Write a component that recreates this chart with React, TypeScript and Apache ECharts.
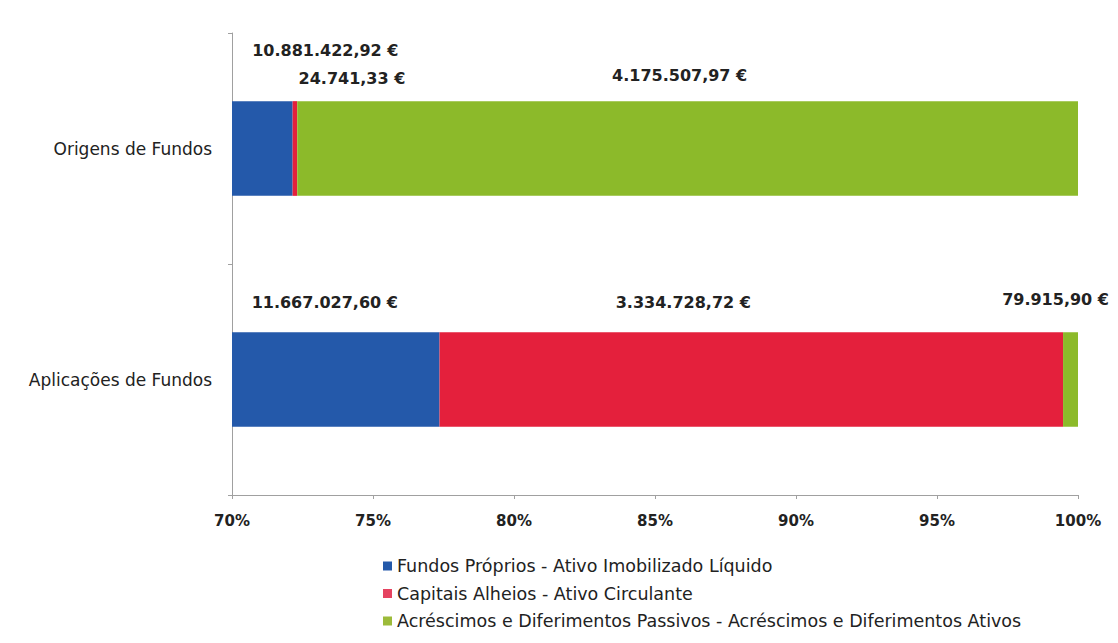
import React, { useEffect, useRef } from "react";
import * as echarts from "echarts";

const categories = ["Origens de Fundos", "Aplicações de Fundos"];
const seriesNames = [
  "Fundos Próprios - Ativo Imobilizado Líquido",
  "Capitais Alheios - Ativo Circulante",
  "Acréscimos e Diferimentos Passivos - Acréscimos e Diferimentos Ativos",
];
const fundosProprios = [10881422.92, 11667027.6];
const capitaisAlheios = [24741.33, 3334728.72];
const acrescimos = [4175507.97, 79915.9];
const xTicks = { min: 70, max: 100, interval: 5 };

const colors = ["#2459aa", "#e4203c", "#8cba2a"];
const legendColors = ["#2459aa", "#e54360", "#9cbb3a"];

// label offsets [series][category]
const labelOffsets = [
  [[63, -38], [-11, -17]],
  [[57, -10], [-68, -17]],
  [[-8, -13], [-15, -20]],
];

function fmtEuro(v: number): string {
  const [i, d] = v.toFixed(2).split(".");
  const g = i.replace(/\B(?=(\d{3})+(?!\d))/g, ".");
  return g + "," + d + " €";
}

export default function App() {
  const ref = useRef<HTMLDivElement>(null);
  useEffect(() => {
    if (!ref.current) return;
    const chart = echarts.init(ref.current, undefined, { renderer: "svg" });
    const raw = [fundosProprios, capitaisAlheios, acrescimos];
    const totals = categories.map((_, i) => raw.reduce((s, a) => s + a[i], 0));
    const font = "'DejaVu Sans', sans-serif";
    chart.setOption({
      animation: false,
      backgroundColor: "#ffffff",
      grid: { left: 224, right: 32, top: 25, bottom: 140 },
      legend: {
        orient: "vertical",
        left: 370,
        top: 544,
        height: 90,
        itemWidth: 9,
        itemHeight: 9,
        itemGap: 9.5,
        icon: "rect",
        textStyle: { fontFamily: font, fontSize: 17.5, color: "#222" },
        data: seriesNames.map((n, i) => ({ name: n, itemStyle: { color: legendColors[i] } })),
      },
      xAxis: {
        type: "value",
        min: xTicks.min,
        max: xTicks.max,
        interval: xTicks.interval,
        axisLine: { show: true, lineStyle: { color: "#a0a0a0" } },
        axisTick: { show: true, length: 4, lineStyle: { color: "#a0a0a0" } },
        splitLine: { show: false },
        axisLabel: {
          formatter: "{value}%",
          fontFamily: font,
          fontSize: 15,
          fontWeight: "bold",
          color: "#222",
          margin: 18,
        },
      },
      yAxis: {
        type: "category",
        inverse: true,
        data: categories,
        axisLine: { show: true, lineStyle: { color: "#a0a0a0" } },
        axisTick: { show: true, length: 4, lineStyle: { color: "#a0a0a0" } },
        axisLabel: { fontFamily: font, fontSize: 17, color: "#222", margin: 20 },
      },
      series: raw.map((arr, s) => ({
        name: seriesNames[s],
        type: "bar",
        stack: "total",
        barWidth: "41%",
        itemStyle: { color: colors[s] },
        data: arr.map((v, i) => ({
          value: (v / totals[i]) * 100,
          label: {
            show: true,
            position: "top",
            offset: labelOffsets[s][i],
            formatter: fmtEuro(v),
            fontFamily: font,
            fontSize: 16,
            fontWeight: "bold",
            color: "#222",
          },
        })),
      })),
    });
    return () => chart.dispose();
  }, []);
  return <div ref={ref} style={{ width: 1102, height: 627 }} />;
}
